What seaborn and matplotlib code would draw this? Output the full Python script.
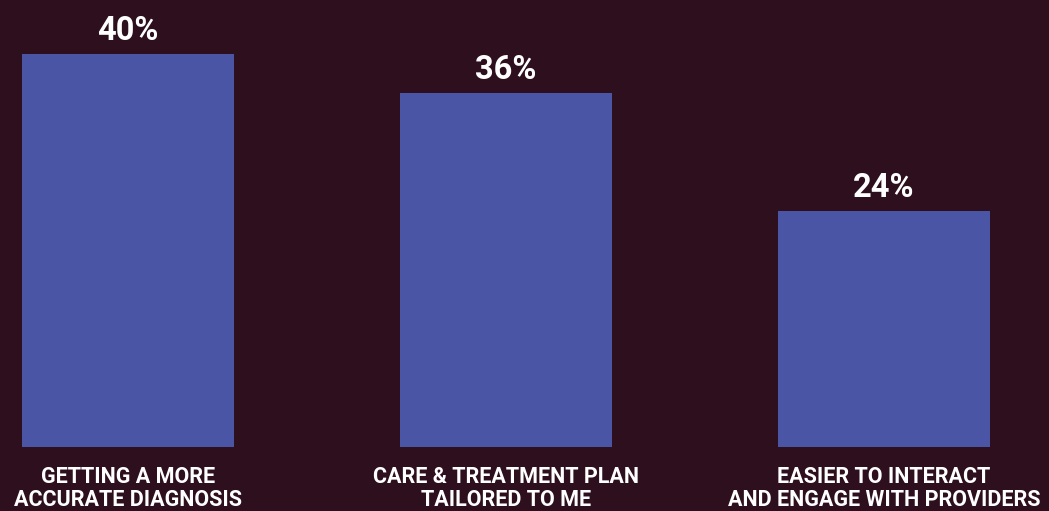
import matplotlib
matplotlib.use("Agg")
import matplotlib.pyplot as plt
import seaborn as sns
import pandas as pd

categories = [
    "GETTING A MORE\nACCURATE DIAGNOSIS",
    "CARE & TREATMENT PLAN\nTAILORED TO ME",
    "EASIER TO INTERACT\nAND ENGAGE WITH PROVIDERS",
]
values = [40, 36, 24]
value_labels = ["40%", "36%", "24%"]

BG = "#2d0f1d"
BAR = "#4a56a5"

sns.set_theme(style="white")
plt.rcParams["font.family"] = ["Roboto", "DejaVu Sans"]

df = pd.DataFrame({"category": categories, "value": values})

fig = plt.figure(figsize=(10.49, 5.11), dpi=100, facecolor=BG)
ax = fig.add_axes([0, 64 / 511, 1, 447 / 511])
ax.set_facecolor(BG)

sns.barplot(data=df, x="category", y="value", color=BAR, width=212 / 378,
            saturation=1, linewidth=0, edgecolor=BAR, ax=ax)

ax.set_xlim(-128 / 378, (1049 - 128) / 378)
ax.set_ylim(0, 447 / (393 / 40))

for container in ax.containers:
    ax.bar_label(container, labels=value_labels, padding=5, color="white",
                 fontsize=23.5, fontweight="bold")

ax.set_xlabel("")
ax.set_ylabel("")
ax.set_yticks([])
ax.set_xticks(range(len(categories)))
ax.set_xticklabels(categories, color="white", fontsize=15.5, fontweight="bold",
                   linespacing=1.05)
ax.tick_params(axis="x", length=0, pad=14)
for s in ax.spines.values():
    s.set_visible(False)

fig.savefig("out.png", dpi=100, facecolor=BG)
